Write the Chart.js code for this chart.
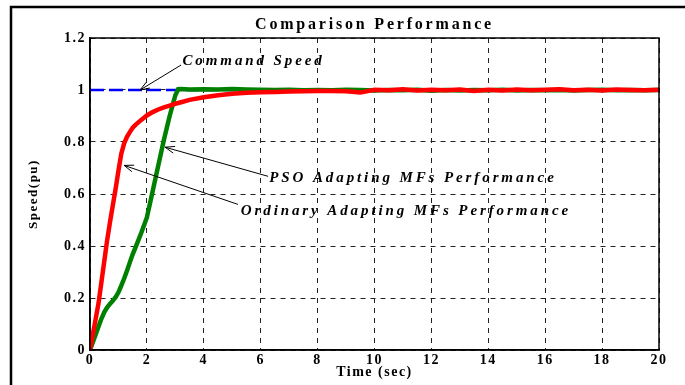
<!DOCTYPE html>
<html>
<head>
<meta charset="utf-8">
<script src="https://cdn.jsdelivr.net/npm/chart.js@4/dist/chart.umd.min.js"></script>
<style>
html,body{margin:0;padding:0;background:#fff;}
#wrap{position:relative;width:685px;height:385px;}
</style>
</head>
<body>
<div id="wrap"><canvas id="c" width="685" height="385"></canvas></div>
<script>
// ---- data ----
const time = [0,0.1,0.2,0.3,0.4,0.5,0.6,0.7,0.8,0.9,1.0,1.1,1.2,1.3,1.4,1.5,1.6,1.8,2.0,2.2,2.4,2.6,2.8,3.0,3.1,3.2,3.5,4.0,4.5,5.0,5.5,6.0,6.5,7.0,7.5,8.0,8.5,9.0,9.5,10.0,10.5,11.0,11.5,12.0,12.5,13.0,13.5,14.0,14.5,15.0,15.5,16.0,16.5,17.0,17.5,18.0,18.5,19.0,19.5,20.0];
const ordinary = [0.0,0.06,0.12,0.18,0.26,0.34,0.42,0.49,0.555,0.62,0.69,0.755,0.795,0.82,0.838,0.855,0.866,0.885,0.902,0.915,0.925,0.933,0.94,0.947,0.95,0.953,0.962,0.972,0.98,0.986,0.989,0.991,0.992,0.994,0.995,0.996,0.996,0.995,0.99,1.001,0.999,1.003,0.998,1.001,0.999,1.002,0.996,1.001,0.998,1.002,0.999,1.001,1.003,0.999,1.001,0.998,1.002,1.0,0.999,1.001];
const pso = [0.0,0.03,0.06,0.09,0.12,0.145,0.163,0.177,0.189,0.203,0.222,0.248,0.275,0.305,0.337,0.368,0.395,0.45,0.51,0.61,0.71,0.81,0.9,0.98,1.003,1.004,1.002,1.003,1.002,1.004,1.002,1.001,1.0,1.001,0.999,1.0,0.999,1.001,1.0,0.998,1.0,0.999,1.001,0.997,1.0,0.998,1.0,0.999,1.001,0.998,1.0,0.999,1.0,0.998,1.0,1.001,0.999,1.0,0.999,1.0];
const commandTime = [0, 20];
const commandSpeed = [1, 1];
const xTicks = [0,2,4,6,8,10,12,14,16,18,20];
const yTicks = [0,0.2,0.4,0.6,0.8,1.0,1.2];

// annotations: [label, textX, textY, arrowFromX, arrowFromY, arrowTipX, arrowTipY] in data units
const notes = [
  ['Command Speed', 3.25, 1.111, 3.2, 1.096, 1.76, 1.0],
  ['PSO Adapting MFs Performance', 6.3, 0.66, 6.26, 0.668, 2.64, 0.78],
  ['Ordinary Adapting MFs Performance', 5.3, 0.535, 5.2, 0.56, 1.2, 0.71]
];

const serif = '"Liberation Serif","Times New Roman",serif';

const decor = {
  id: 'decor',
  beforeDraw(chart) {
    const ctx = chart.ctx;
    ctx.letterSpacing = '1.5px';
    ctx.save();
    ctx.fillStyle = '#fff';
    ctx.fillRect(0, 0, chart.width, chart.height);
    ctx.strokeStyle = '#000';
    ctx.lineWidth = 2.5;
    ctx.beginPath();
    ctx.moveTo(11, chart.height + 5);
    ctx.lineTo(11, 7);
    ctx.lineTo(chart.width + 5, 7);
    ctx.stroke();
    ctx.restore();
  },
  afterDraw(chart) {
    const ctx = chart.ctx;
    const a = chart.chartArea;
    const xs = chart.scales.x, ys = chart.scales.y;
    ctx.save();
    ctx.strokeStyle = '#000';
    ctx.lineWidth = 1.5;
    ctx.strokeRect(a.left, a.top, a.right - a.left, a.bottom - a.top);
    // title
    ctx.letterSpacing = '2.8px';
    ctx.fillStyle = '#000';
    ctx.font = 'bold 16px ' + serif;
    ctx.textAlign = 'center';
    ctx.textBaseline = 'middle';
    ctx.fillText('Comparison Performance', (a.left + a.right) / 2, 25);
    // notes
    ctx.letterSpacing = '2.9px';
    ctx.font = 'italic bold 15px ' + serif;
    ctx.textAlign = 'left';
    ctx.lineWidth = 1;
    notes.forEach(n => {
      ctx.fillText(n[0], xs.getPixelForValue(n[1]), ys.getPixelForValue(n[2]));
      const x1 = xs.getPixelForValue(n[3]), y1 = ys.getPixelForValue(n[4]);
      const x2 = xs.getPixelForValue(n[5]), y2 = ys.getPixelForValue(n[6]);
      ctx.beginPath();
      ctx.moveTo(x1, y1); ctx.lineTo(x2, y2);
      const ang = Math.atan2(y2 - y1, x2 - x1);
      const L = 10, w = 0.35;
      ctx.moveTo(x2 - L * Math.cos(ang - w), y2 - L * Math.sin(ang - w));
      ctx.lineTo(x2, y2);
      ctx.lineTo(x2 - L * Math.cos(ang + w), y2 - L * Math.sin(ang + w));
      ctx.stroke();
    });
    ctx.restore();
  }
};

const tickFont = {family: serif, weight: 'bold', size: 14};

new Chart(document.getElementById('c'), {
  type: 'line',
  data: {
    datasets: [
      {
        label: 'Ordinary Adapting MFs Performance',
        data: time.map((t, i) => ({x: t, y: ordinary[i]})),
        borderColor: '#ff0000', borderWidth: 4.5, pointRadius: 0, tension: 0, order: 1
      },
      {
        label: 'PSO Adapting MFs Performance',
        data: time.map((t, i) => ({x: t, y: pso[i]})),
        borderColor: '#008000', borderWidth: 4.5, pointRadius: 0, tension: 0, order: 2
      },
      {
        label: 'Command Speed',
        data: commandTime.map((t, i) => ({x: t, y: commandSpeed[i]})),
        borderColor: '#0000ff', borderWidth: 2.5, borderDash: [14, 5], pointRadius: 0, order: 3
      }
    ]
  },
  options: {
    responsive: false,
    animation: false,
    devicePixelRatio: 1,
    layout: {padding: {left: 0, right: 26, top: 38, bottom: 0}},
    plugins: {legend: {display: false}, title: {display: false}, tooltip: {enabled: false}},
    scales: {
      x: {
        type: 'linear', min: 0, max: 20,
        afterBuildTicks: s => { s.ticks = xTicks.map(v => ({value: v})); },
        afterFit: s => { s.height = 35; },
        ticks: {font: tickFont, color: '#000', padding: 2, maxRotation: 0},
        grid: {color: '#222', lineWidth: 1, drawTicks: false},
        border: {color: '#000', width: 1.5, dash: [5, 5]},
        title: {display: true, text: 'Time (sec)', font: tickFont, color: '#000', padding: {top: -6, bottom: 4}}
      },
      y: {
        min: 0, max: 1.2,
        afterBuildTicks: s => { s.ticks = yTicks.map(v => ({value: v})); },
        afterFit: s => { s.width = 90; },
        ticks: {font: tickFont, color: '#000', padding: 4, callback: v => (Math.round(v * 10) / 10).toString()},
        grid: {color: '#222', lineWidth: 1, drawTicks: false},
        border: {color: '#000', width: 1.5, dash: [5, 5]},
        title: {display: true, text: 'Speed(pu)', font: {family: serif, weight: 'bold', size: 13}, color: '#000', padding: {top: 26, bottom: 0}}
      }
    }
  },
  plugins: [decor]
});
</script>
</body>
</html>
